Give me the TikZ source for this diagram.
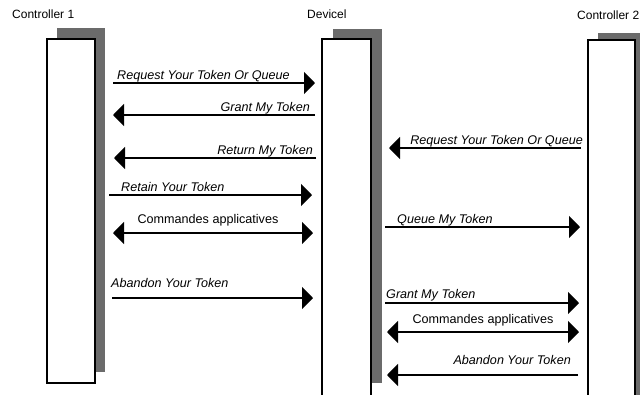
\documentclass[tikz,border=0pt]{standalone}
\usepackage{fontspec}
\setmainfont{Liberation Sans}
\usetikzlibrary{arrows.meta}
\begin{document}
\begin{tikzpicture}[x=1pt,y=-1pt,
  lifebox/.style={draw=black, line width=1.4pt, fill=white, inner sep=0pt, outer sep=0pt},
  boxshade/.style={fill=black!58},
  msg/.style={line width=1.8pt, -{Triangle[length=11pt,width=22pt]}},
  msgboth/.style={line width=1.8pt, {Triangle[length=11pt,width=22pt]}-{Triangle[length=11pt,width=22pt]}},
  lbl/.style={font=\fontsize{12.6}{14}\selectfont\itshape, inner sep=0pt},
  lblup/.style={font=\fontsize{12.6}{14}\selectfont, inner sep=0pt, anchor=base},
  title/.style={font=\fontsize{12}{14}\selectfont, inner sep=0pt, anchor=base west}]
\useasboundingbox (0,0) rectangle (640,394);
\fill[white] (0,0) rectangle (640,394);

% headings
\node[title] (h1) at (12,18.5) {Controller 1};
\node[title] (h2) at (307,18.5) {Devicel};
\node[title] (h3) at (577,19) {Controller 2};

% lifeline boxes with their offset shadows
\fill[boxshade] (57,28) rectangle (105,372);
\node[lifebox, minimum width=48pt, minimum height=344pt] (c1) at (71,211) {};
\fill[boxshade] (333,29) rectangle (382,383);
\node[lifebox, minimum width=49pt, minimum height=357pt] (dev) at (346.5,217.5) {};
\fill[boxshade] (598,33) rectangle (646,400);
\node[lifebox, minimum width=47pt, minimum height=360pt] (c2) at (611.5,220) {};

% Controller 1 <-> Device
\coordinate (a1s) at (113,83);  \coordinate (a1e) at (315,83);
\draw[msg] (a1s) -- (a1e);
\node[lbl, anchor=base west] (l1) at (117,79) {Request Your Token Or Queue};

\coordinate (a2s) at (315,115); \coordinate (a2e) at (113,115);
\draw[msg] (a2s) -- (a2e);
\node[lbl, anchor=base east] (l2) at (310,111) {Grant My Token};

\coordinate (a3s) at (316,158); \coordinate (a3e) at (114,158);
\draw[msg] (a3s) -- (a3e);
\node[lbl, anchor=base east] (l3) at (313,154) {Return My Token};

\coordinate (a4s) at (109,195); \coordinate (a4e) at (312,195);
\draw[msg] (a4s) -- (a4e);
\node[lbl, anchor=base west] (l4) at (121,191) {Retain Your Token};

\coordinate (a5s) at (113,233); \coordinate (a5e) at (313,233);
\draw[msgboth] (a5s) -- (a5e);
\node[lblup] (l5) at (208,223) {Commandes applicatives};

\coordinate (a6s) at (112,298); \coordinate (a6e) at (313,298);
\draw[msg] (a6s) -- (a6e);
\node[lbl, anchor=base west] (l6) at (111,287) {Abandon Your Token};

% Device <-> Controller 2
\coordinate (b1s) at (581,148); \coordinate (b1e) at (389,148);
\draw[msg] (b1s) -- (b1e);
\node[lbl, anchor=base east] (m1) at (583,144) {Request Your Token Or Queue};

\coordinate (b2s) at (385,227); \coordinate (b2e) at (580,227);
\draw[msg] (b2s) -- (b2e);
\node[lbl, anchor=base west] (m2) at (397,223) {Queue My Token};

\coordinate (b3s) at (385,303); \coordinate (b3e) at (579,303);
\draw[msg] (b3s) -- (b3e);
\node[lbl, anchor=base west] (m3) at (386,298) {Grant My Token};

\coordinate (b4s) at (387,332); \coordinate (b4e) at (579,332);
\draw[msgboth] (b4s) -- (b4e);
\node[lblup] (m4) at (483,323) {Commandes applicatives};

\coordinate (b5s) at (578,375); \coordinate (b5e) at (387,375);
\draw[msg] (b5s) -- (b5e);
\node[lbl, anchor=base east] (m5) at (571,364) {Abandon Your Token};
\end{tikzpicture}
\end{document}
